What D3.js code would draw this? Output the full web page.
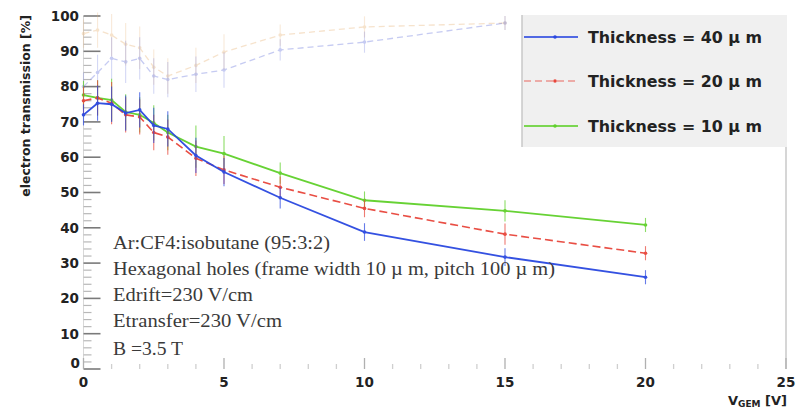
<!DOCTYPE html>
<html>
<head>
<meta charset="utf-8">
<script src="https://cdn.jsdelivr.net/npm/d3@7"></script>
<style>
  html, body { margin: 0; padding: 0; background: #fff; }
  svg { display: block; }
  .sans { font-family: "DejaVu Sans", sans-serif; font-weight: bold; fill: #222; }
  .serif { font-family: "Liberation Serif", "Times New Roman", serif; fill: #3a3a3a; }
</style>
</head>
<body>
<svg id="chart" width="804" height="411"></svg>
<script>
// GEM voltage points (V)
const vGem = [0, 0.5, 1, 1.5, 2, 2.5, 3, 4, 5, 7, 10, 15, 20];

// electron transmission (%) per foil thickness
const t40 = [72, 75.3, 75, 72.5, 73.4, 69, 68, 60.5, 55.8, 48.5, 38.8, 31.7, 26];
const t20 = [76, 76.8, 75.3, 72, 71.4, 67, 65.7, 59.7, 56.4, 51.5, 45.5, 38.2, 32.8];
const t10 = [77.6, 76.8, 76.2, 72.8, 72, 69.7, 67, 63, 61, 55.5, 47.8, 44.8, 40.8];

// statistical errors (%)
const e40 = [3, 5, 5, 5, 5, 5, 5, 5, 4, 3, 2.5, 2.5, 2];
const e20 = [4, 5, 6, 5, 5, 5, 5, 5, 4, 3, 2.5, 3, 2];
const e10 = [4, 5, 6, 5, 5, 5, 5, 6, 5, 3, 2.5, 3, 2];

// reference runs drawn pale in the background
const vRef = [0, 0.5, 1, 1.5, 2, 2.5, 3, 4, 5, 7, 10, 15];
const ref40 = [80, 84, 88, 87, 88, 83, 82, 83.5, 84.7, 90.4, 92.6, 98];
const refThin = [95, 96, 94.6, 92, 91, 85.5, 83, 86, 89.8, 94.6, 96.9, 98];
const eRef = [4, 5, 6, 6, 6, 5, 5, 5, 5, 3, 3, 2];

const yTicks = [0, 10, 20, 30, 40, 50, 60, 70, 80, 90, 100];
const xTicks = [0, 5, 10, 15, 20, 25];

const legendLabels = ["Thickness = 40 \u00b5 m", "Thickness = 20 \u00b5 m", "Thickness = 10 \u00b5 m"];
const notes = [
  "Ar:CF4:isobutane (95:3:2)",
  "Hexagonal holes (frame width 10 \u00b5 m, pitch 100 \u00b5 m)",
  "Edrift=230 V/cm",
  "Etransfer=230 V/cm",
  "B =3.5 T"
];

const svg = d3.select("#chart");
const x = d3.scaleLinear().domain([0, 25]).range([83.5, 786]);
const y = d3.scaleLinear().domain([0, 100]).range([369, 16]);

// frame: right edge and faint axis lines
svg.append("line").attr("x1", x(25)).attr("x2", x(25)).attr("y1", y(100)).attr("y2", y(0))
  .attr("stroke", "#c8c8c8").attr("stroke-width", 1.5);
svg.append("line").attr("x1", x(0)).attr("x2", x(0)).attr("y1", y(100)).attr("y2", y(0))
  .attr("stroke", "#d8d8d8").attr("stroke-width", 1);

// y ticks (inside), major every 10, minor every 2
d3.range(0, 101, 2).forEach(v => {
  const major = v % 10 === 0;
  svg.append("line").attr("x1", x(0)).attr("x2", x(0) + (major ? 17 : 8))
    .attr("y1", y(v)).attr("y2", y(v))
    .attr("stroke", major ? "#7a7a7a" : "#b8b8b8").attr("stroke-width", major ? 1.6 : 1.2);
});
// x ticks (inside), major every 5, minor every 1
d3.range(0, 26, 1).forEach(v => {
  const major = v % 5 === 0;
  svg.append("line").attr("x1", x(v)).attr("x2", x(v))
    .attr("y1", y(0)).attr("y2", y(0) - (major ? 11 : 5))
    .attr("stroke", major ? "#b0b0b0" : "#cfcfcf").attr("stroke-width", 1.3);
});

// tick labels
svg.selectAll(".ylab").data(yTicks.filter(d => d > 0)).join("text")
  .attr("class", "sans").attr("x", 79).attr("y", d => y(d)).attr("dy", "0.36em")
  .attr("text-anchor", "end").attr("font-size", 13.5).text(d => d);
svg.append("text").attr("class", "sans").attr("x", 80).attr("y", y(0) - 1)
  .attr("text-anchor", "end").attr("font-size", 13.5).text("0");
svg.selectAll(".xlab").data(xTicks).join("text")
  .attr("class", "sans").attr("x", d => x(d)).attr("y", 387)
  .attr("text-anchor", "middle").attr("font-size", 13.5).text(d => d);

// axis titles
svg.append("text").attr("class", "sans")
  .attr("transform", "translate(30,15) rotate(-90)")
  .attr("text-anchor", "end").attr("font-size", 12.5).text("electron transmission [%]");
const xt = svg.append("text").attr("class", "sans").attr("x", 787).attr("y", 405)
  .attr("text-anchor", "end").attr("font-size", 13);
xt.append("tspan").text("V");
xt.append("tspan").attr("font-size", 9).attr("dy", 2).text("GEM");
xt.append("tspan").attr("dy", -2).text(" [V]");

// series drawing helper
const line = d3.line().x(d => x(d[0])).y(d => y(d[1]));
function drawSeries(xs, ys, es, color, width, dash, opacity) {
  const pts = xs.map((v, i) => [v, ys[i], es[i]]);
  const g = svg.append("g").attr("opacity", opacity);
  g.selectAll("line").data(pts).join("line")
    .attr("x1", d => x(d[0])).attr("x2", d => x(d[0]))
    .attr("y1", d => y(d[1] - d[2])).attr("y2", d => y(d[1] + d[2]))
    .attr("stroke", color).attr("stroke-width", 1.1).attr("stroke-opacity", 0.75);
  g.append("path").datum(pts).attr("d", line).attr("fill", "none")
    .attr("stroke", color).attr("stroke-width", width)
    .attr("stroke-dasharray", dash);
  g.selectAll("circle").data(pts).join("circle")
    .attr("cx", d => x(d[0])).attr("cy", d => y(d[1])).attr("r", 1.8)
    .attr("fill", color);
}

// pale reference runs
drawSeries(vRef, refThin, eRef, "#e8b070", 1.3, "6,4", 0.35);
drawSeries(vRef, ref40, eRef, "#5060d8", 1.3, "6,4", 0.32);

// main measurements
drawSeries(vGem, t10, e10, "#5fd02a", 1.8, null, 0.95);
drawSeries(vGem, t20, e20, "#e8453a", 1.6, "8,4", 0.95);
drawSeries(vGem, t40, e40, "#2a48e0", 1.8, null, 0.95);

// annotation block
const noteY = [249, 275, 301, 327, 355];
const noteW = [217, 442, 140, 169, 70];
svg.selectAll(".note").data(notes).join("text")
  .attr("class", "serif").attr("x", 113)
  .attr("y", (d, i) => noteY[i])
  .attr("font-size", (d, i) => i === 4 ? 19 : 18)
  .attr("textLength", (d, i) => noteW[i])
  .attr("lengthAdjust", "spacingAndGlyphs")
  .text(d => d);

// legend
const legendColors = ["#2a48e0", "#e8453a", "#5fd02a"];
const legendDash = [null, "7,4", null];
const lg = svg.append("g");
lg.append("rect").attr("x", 522).attr("y", 15).attr("width", 265).attr("height", 132)
  .attr("fill", "#f0f0f0");
lg.append("line").attr("x1", 522).attr("x2", 522).attr("y1", 15).attr("y2", 147)
  .attr("stroke", "#c8c8c8").attr("stroke-width", 1.5);
legendLabels.forEach((lab, i) => {
  const cy = [37, 81, 126][i];
  lg.append("line").attr("x1", 524).attr("x2", 578).attr("y1", cy).attr("y2", cy)
    .attr("stroke", legendColors[i]).attr("stroke-width", i === 1 ? 1.2 : 2)
    .attr("stroke-dasharray", legendDash[i]).attr("opacity", 0.8);
  lg.append("circle").attr("cx", 555).attr("cy", cy).attr("r", 1.8).attr("fill", legendColors[i]);
  lg.append("text").attr("class", "sans").attr("x", 588).attr("y", cy).attr("dy", "0.36em")
    .attr("font-size", 15.5).attr("textLength", 174).attr("lengthAdjust", "spacingAndGlyphs")
    .text(lab);
});
</script>
</body>
</html>
